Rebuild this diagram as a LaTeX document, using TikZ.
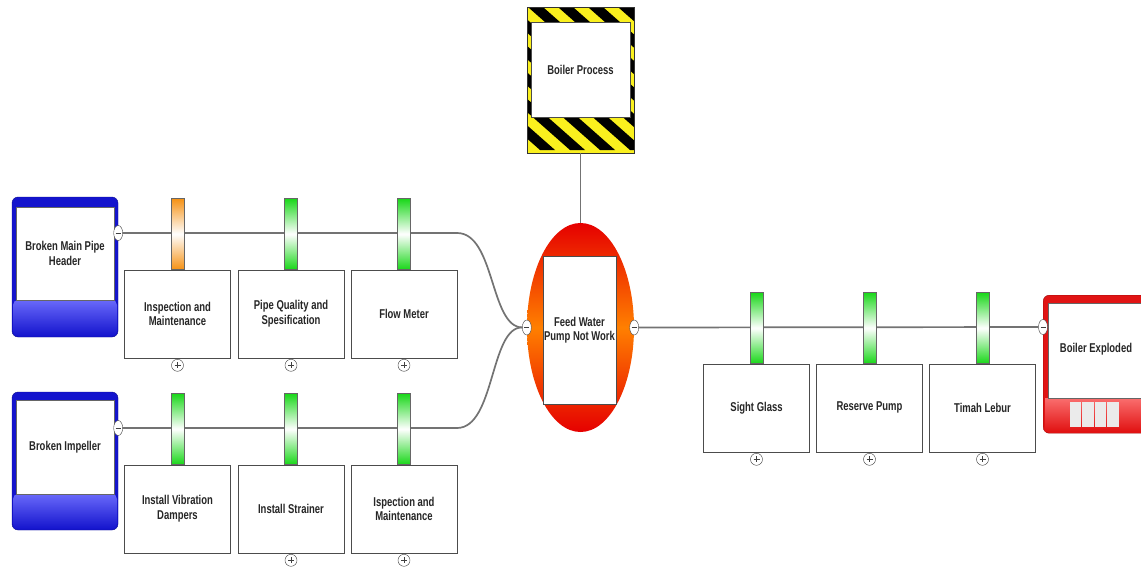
\documentclass[tikz,border=0pt]{standalone}
\usepackage{fontspec}
\setmainfont{Liberation Sans}[FakeStretch=0.74]
\usepackage[x11names, svgnames]{xcolor}
\usepackage{tikz}
\usetikzlibrary{shapes.geometric, calc, positioning}

\definecolor{barGreen}{RGB}{25,215,25}
\definecolor{barOrange}{RGB}{245,145,20}
\definecolor{threatBlue}{RGB}{20,20,205}
\definecolor{threatLight}{RGB}{105,105,250}
\definecolor{conseqRed}{RGB}{225,20,20}
\definecolor{conseqLight}{RGB}{250,110,110}
\definecolor{hazYellow}{RGB}{250,240,30}

\tikzset{
	lbl/.style={font=\bfseries\fontsize{12.8}{14.5}\selectfont, align=center, text=black!85},
	ctrlbox/.style={lbl, draw=black!70, fill=white, minimum width=106pt, minimum height=88pt, inner sep=0pt},
	ctrlbar/.style={draw=black!60, minimum width=13pt, minimum height=71pt, inner sep=0pt},
	link/.style={draw=black!55, line width=1.7pt},
	minus/.style={ellipse, draw=black!75, fill=white, thin, minimum width=9pt, minimum height=15pt, inner sep=0pt,
		path picture={\draw[black!75, semithick] (-2.5,0) -- (2.5,0);}},
	plus/.style={circle, draw=black!75, fill=white, thin, minimum size=12pt, inner sep=0pt,
		path picture={\draw[black!75, semithick] (-3,0) -- (3,0) (0,-3) -- (0,3);}},
}

% name, x, line y, colour, text
\newcommand{\Barrier}[5]{
	\node[ctrlbar, top color=#4, bottom color=#4, middle color=white] (#1bar) at (#2,#3+1) {};
	\node[ctrlbox, anchor=north] (#1) at (#1bar.south) {#5};
}

\begin{document}
\begin{tikzpicture}[x=1pt, y=-1pt]
	\useasboundingbox (0,0) rectangle (1141,570);

	% threats
	\node[draw=threatBlue!70!black, fill=threatBlue, rounded corners=6pt, minimum width=106pt, minimum height=140pt] (t1) at (65,267) {};
	\shade[top color=threatLight, bottom color=threatBlue, rounded corners=5pt] (13,300) -- (117,300) -- (117,336) -- (13,336) -- cycle;
	\node[lbl, draw=black!60, fill=white, minimum width=98pt, minimum height=93pt, inner sep=0pt] (t1txt) at (65,253.5) {Broken Main Pipe\\Header};

	\node[draw=threatBlue!70!black, fill=threatBlue, rounded corners=6pt, minimum width=106pt, minimum height=138pt] (t2) at (65,461) {};
	\shade[top color=threatLight, bottom color=threatBlue, rounded corners=5pt] (13,494) -- (117,494) -- (117,529) -- (13,529) -- cycle;
	\node[lbl, draw=black!60, fill=white, minimum width=98pt, minimum height=94pt, inner sep=0pt] (t2txt) at (65,447) {Broken Impeller};

	% hazard
	\begin{scope}
		\clip (527,7) rectangle (634,153);
		\fill[hazYellow] (527,7) rectangle (634,153);
		\foreach \i in {0,...,12}
			\fill[black] ($(370,0)+(\i*30,0)$) -- ++(15,0) -- ++(170,150) -- ++(-15,0) -- cycle;
	\end{scope}
	\draw[black!80] (527,7) rectangle (634,153);
	\node[lbl, draw=black!70, fill=white, minimum width=99pt, minimum height=95pt, inner sep=0pt] (hz) at (580.5,69.5) {Boiler Process};
	\coordinate (hzfoot) at (580.5,153);

	% top event
	\node[ellipse, top color=red!90!black, bottom color=red!90!black, middle color=orange, minimum width=107pt, minimum height=209pt, inner sep=0pt] (te) at (580.5,327.5) {};
	\node[lbl, draw=black!70, fill=white, minimum width=73pt, minimum height=148pt, inner sep=0pt] (tetxt) at (579.5,330) {Feed Water\\Pump Not Work};
	\draw[link, line width=1.2pt] (hzfoot) -- (te.north);

	% consequence
	\begin{scope}
		\clip (0,0) rectangle (1141,570);
		\node[draw=conseqRed!70!black, fill=conseqRed, rounded corners=6pt, minimum width=108pt, minimum height=138pt, anchor=north west] (cq) at (1043,295) {};
		\shade[top color=conseqLight, bottom color=conseqRed] (1045,398) rectangle (1150,431);
		\node[lbl, draw=black!60, fill=white, minimum width=100pt, minimum height=95pt, anchor=north west] (cqtxt) at (1048,303) {};
		\foreach \k in {0,...,3}
			\fill[black!8] ($(1069.5,402)+(\k*12.5,0)$) rectangle +(11.5,25);
	\end{scope}
	\node[lbl] at (1096,349) {Boiler Exploded};

	% ends of the lines
	\node[minus] (m1) at (t1.east |- 0,233) {};
	\node[minus] (m2) at (t2.east |- 0,428) {};
	\node[minus] (tein) at (te.west) {};
	\node[minus] (teout) at (te.east) {};
	\node[minus] (cqin) at (1043,327) {};
	\coordinate (bend1) at (457,233);
	\coordinate (bend2) at (457,428);

	\draw[link] (m1) -- (bend1) .. controls (495,233) and (490,327) .. (tein);
	\draw[link] (m2) -- (bend2) .. controls (495,428) and (490,327) .. (tein);
	\draw[link] (teout) -- (cqin);

	% barriers
	\Barrier{b1}{177.5}{233}{barOrange}{Inspection and\\Maintenance}
	\Barrier{b2}{291}{233}{barGreen}{Pipe Quality and\\Spesification}
	\Barrier{b3}{404}{233}{barGreen}{Flow Meter}
	\Barrier{b4}{177.5}{428}{barGreen}{Install Vibration\\Dampers}
	\Barrier{b5}{291}{428}{barGreen}{Install Strainer}
	\Barrier{b6}{404}{428}{barGreen}{Ispection and\\Maintenance}
	\Barrier{b7}{756.5}{327}{barGreen}{Sight Glass}
	\Barrier{b8}{869.5}{327}{barGreen}{Reserve Pump}
	\Barrier{b9}{982.5}{327}{barGreen}{Timah Lebur}

	\foreach \b in {b1,b2,b3,b5,b6,b7,b8,b9}
		\node[plus, below=1pt of \b.south] (\b plus) {};
\end{tikzpicture}
\end{document}
